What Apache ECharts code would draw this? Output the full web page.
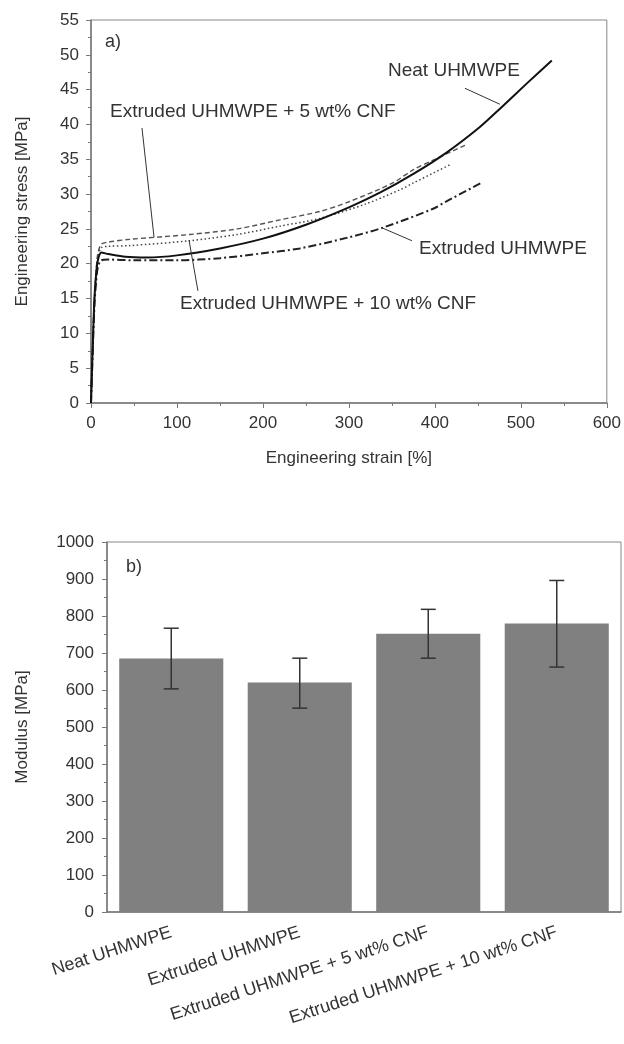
<!DOCTYPE html>
<html>
<head>
<meta charset="utf-8">
<script src="https://cdn.jsdelivr.net/npm/echarts@6/dist/echarts.min.js"></script>
<style>
  html, body { margin: 0; padding: 0; background: #fff; }
  #chart { width: 624px; height: 1044px; }
</style>
</head>
<body>
<div id="chart"></div>
<script>
// a) stress-strain curves, [strain %, stress MPa]
const neatStrain = [0, 2, 4, 6, 8, 12, 20, 40, 65, 100, 150, 200, 250, 300, 336, 375, 414, 452, 476, 507, 536]
const neatStress = [0, 8, 15, 18.5, 20.5, 21.6, 21.4, 21.0, 20.9, 21.2, 22.2, 23.6, 25.6, 28.1, 30.2, 32.9, 36.0, 39.6, 42.3, 45.9, 49.2]

const extStrain = [0, 2, 4, 6, 8, 12, 20, 50, 100, 150, 200, 243, 300, 340, 398, 414, 454]
const extStress = [0, 7.5, 14, 17.5, 19.5, 20.5, 20.6, 20.5, 20.5, 20.8, 21.5, 22.2, 23.8, 25.2, 27.9, 29.0, 31.6]

const cnf5Strain = [0, 2, 4, 6, 8, 12, 20, 45, 115, 170, 220, 266, 300, 351, 375, 400, 435]
const cnf5Stress = [0, 8, 15, 19, 21.5, 22.8, 23.1, 23.5, 24.2, 25.0, 26.3, 27.5, 28.9, 31.6, 33.5, 35.0, 37.0]

const cnf10Strain = [0, 2, 4, 6, 8, 12, 20, 45, 115, 170, 220, 266, 320, 359, 375, 419]
const cnf10Stress = [0, 8, 15, 19, 21, 22.3, 22.5, 22.6, 23.3, 24.2, 25.4, 26.5, 28.6, 30.6, 31.6, 34.3]

// b) modulus bars
const samples = ['Neat UHMWPE', 'Extruded UHMWPE', 'Extruded UHMWPE + 5 wt% CNF', 'Extruded UHMWPE + 10 wt% CNF']
const modulus = [685, 620, 752, 780]
const modulusLow = [603, 551, 686, 662]
const modulusHigh = [767, 686, 818, 896]

const zip = (xs, ys) => xs.map((x, i) => [x, ys[i]])

const textColor = '#333'
const axisColor = '#777'
const font = 'Liberation Sans, Arial, sans-serif'

function leader(a, b) {
    return [{coord: a}, {coord: b}]
}

const chart = echarts.init(document.getElementById('chart'))

chart.setOption({
    animation: false,
    textStyle: {fontFamily: font, color: textColor},
    grid: [
        {left: 91, right: 17, top: 20, bottom: 641, show: true, borderColor: '#888', borderWidth: 1},
        {left: 107, right: 3, top: 542, bottom: 132, show: true, borderColor: '#888', borderWidth: 1}
    ],
    xAxis: [{
        gridIndex: 0,
        type: 'value',
        min: 0,
        max: 600,
        interval: 100,
        name: 'Engineering strain [%]',
        nameLocation: 'middle',
        nameGap: 47,
        nameTextStyle: {fontSize: 17, color: textColor},
        axisLine: {lineStyle: {color: axisColor, width: 1.5}},
        axisTick: {length: 5, lineStyle: {color: axisColor}},
        minorTick: {show: true, splitNumber: 2, length: 3, lineStyle: {color: axisColor}},
        splitLine: {show: false},
        axisLabel: {fontSize: 17, color: textColor, margin: 12}
    }, {
        gridIndex: 1,
        type: 'category',
        data: samples,
        axisLine: {lineStyle: {color: axisColor, width: 1.5}},
        axisTick: {alignWithLabel: true, length: 5, lineStyle: {color: axisColor}},
        axisLabel: {fontSize: 18, color: textColor, rotate: 18, margin: 20, interval: 0}
    }],
    yAxis: [{
        gridIndex: 0,
        type: 'value',
        min: 0,
        max: 55,
        interval: 5,
        name: 'Engineering stress [MPa]',
        nameLocation: 'middle',
        nameGap: 60,
        nameTextStyle: {fontSize: 17, color: textColor},
        axisLine: {show: true, lineStyle: {color: axisColor, width: 1.5}},
        axisTick: {show: true, length: 5, lineStyle: {color: axisColor}},
        minorTick: {show: true, splitNumber: 2, length: 3, lineStyle: {color: axisColor}},
        splitLine: {show: false},
        axisLabel: {fontSize: 17, color: textColor, margin: 12}
    }, {
        gridIndex: 1,
        type: 'value',
        min: 0,
        max: 1000,
        interval: 100,
        name: 'Modulus [MPa]',
        nameLocation: 'middle',
        nameGap: 76,
        nameTextStyle: {fontSize: 17, color: textColor},
        axisLine: {show: true, lineStyle: {color: axisColor, width: 1.5}},
        axisTick: {show: true, length: 5, lineStyle: {color: axisColor}},
        minorTick: {show: true, splitNumber: 2, length: 3, lineStyle: {color: axisColor}},
        splitLine: {show: false},
        axisLabel: {fontSize: 17, color: textColor, margin: 13, formatter: v => String(v)}
    }],
    series: [{
        name: 'Extruded UHMWPE + 5 wt% CNF',
        type: 'line',
        xAxisIndex: 0, yAxisIndex: 0,
        data: zip(cnf5Strain, cnf5Stress),
        showSymbol: false,
        smooth: 0.3,
        lineStyle: {color: '#555', width: 1.4, type: [5, 3]}
    }, {
        name: 'Extruded UHMWPE + 10 wt% CNF',
        type: 'line',
        xAxisIndex: 0, yAxisIndex: 0,
        data: zip(cnf10Strain, cnf10Stress),
        showSymbol: false,
        smooth: 0.3,
        lineStyle: {color: '#444', width: 1.5, type: [1.5, 2.5]}
    }, {
        name: 'Extruded UHMWPE',
        type: 'line',
        xAxisIndex: 0, yAxisIndex: 0,
        data: zip(extStrain, extStress),
        showSymbol: false,
        smooth: 0.3,
        lineStyle: {color: '#222', width: 2, type: [8, 3, 2, 3]}
    }, {
        name: 'Neat UHMWPE',
        type: 'line',
        xAxisIndex: 0, yAxisIndex: 0,
        data: zip(neatStrain, neatStress),
        showSymbol: false,
        smooth: 0.3,
        lineStyle: {color: '#111', width: 2},
        markLine: {
            silent: true,
            symbol: 'none',
            label: {show: false},
            lineStyle: {color: '#333', width: 1, type: 'solid'},
            data: [
                leader([59.3, 39.5], [73.3, 23.8]),
                leader([114, 23.4], [124.4, 16.1]),
                leader([434.9, 45.2], [475.6, 42.9]),
                leader([339.5, 25.1], [373.3, 23.3])
            ]
        }
    }, {
        name: 'Modulus',
        type: 'bar',
        xAxisIndex: 1, yAxisIndex: 1,
        data: modulus,
        barCategoryGap: '19%',
        itemStyle: {color: '#808080'}
    }, {
        name: 'Error',
        type: 'custom',
        xAxisIndex: 1, yAxisIndex: 1,
        data: samples.map((s, i) => [i, modulusLow[i], modulusHigh[i]]),
        renderItem(params, api) {
            const lo = api.coord([api.value(0), api.value(1)])
            const hi = api.coord([api.value(0), api.value(2)])
            const w = 7.5
            const style = {stroke: '#333', lineWidth: 1.5}
            return {
                type: 'group',
                children: [
                    {type: 'line', shape: {x1: hi[0], y1: hi[1], x2: lo[0], y2: lo[1]}, style},
                    {type: 'line', shape: {x1: hi[0] - w, y1: hi[1], x2: hi[0] + w, y2: hi[1]}, style},
                    {type: 'line', shape: {x1: lo[0] - w, y1: lo[1], x2: lo[0] + w, y2: lo[1]}, style}
                ]
            }
        },
        z: 10
    }],
    graphic: [
        {type: 'text', left: 105, top: 33, style: {text: 'a)', font: '18px ' + font, fill: textColor}},
        {type: 'text', left: 110, top: 102, style: {text: 'Extruded UHMWPE + 5 wt% CNF', font: '19px ' + font, fill: textColor}},
        {type: 'text', left: 180, top: 294, style: {text: 'Extruded UHMWPE + 10 wt% CNF', font: '19px ' + font, fill: textColor}},
        {type: 'text', left: 388, top: 61, style: {text: 'Neat UHMWPE', font: '19px ' + font, fill: textColor}},
        {type: 'text', left: 419, top: 239, style: {text: 'Extruded UHMWPE', font: '19px ' + font, fill: textColor}},
        {type: 'text', left: 126, top: 558, style: {text: 'b)', font: '18px ' + font, fill: textColor}}
    ]
})
</script>
</body>
</html>
